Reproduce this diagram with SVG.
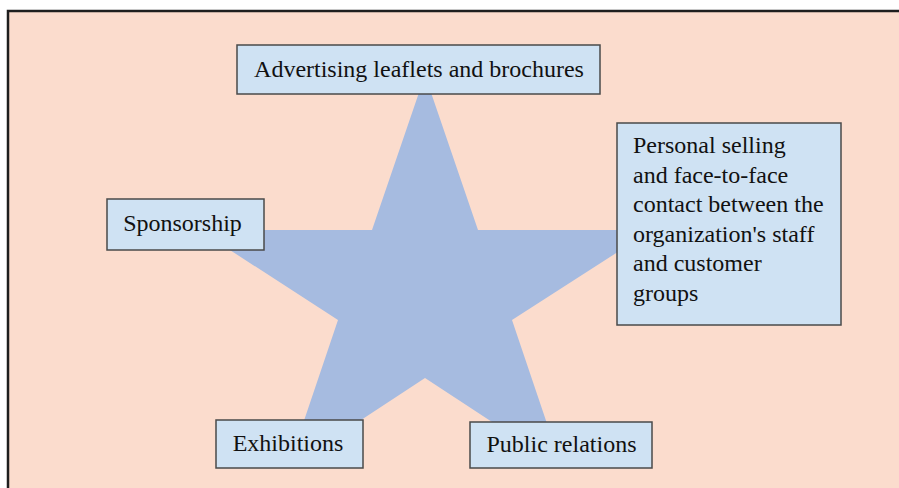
<svg xmlns="http://www.w3.org/2000/svg" width="899" height="488" viewBox="0 0 899 488">
<style>
.box{fill:#CFE2F3;stroke:#4a4a4a;stroke-width:1.5}
.t{font-family:"Liberation Serif","Times New Roman",serif;font-size:24px;fill:#111}
</style>
<rect x="0" y="0" width="899" height="488" fill="#ffffff"/>
<rect x="8" y="11" width="900" height="490" fill="#FBDCCD" stroke="#1e1e1e" stroke-width="2.5"/>
<g id="star">
<polygon points="425,75 478,230 652,230 512,320 562,468 425,378 288,468 338,320 199,230 372,230" fill="#A6BBE0"/>
</g>
<g id="connectors"></g>
<g id="node-advertising">
<rect class="box" x="237" y="45" width="363" height="49"/>
<text class="t" x="419" y="77" text-anchor="middle">Advertising leaflets and brochures</text>
</g>
<g id="node-personal">
<rect class="box" x="617" y="123" width="224" height="202"/>
<text class="t" x="633" y="153">Personal selling</text>
<text class="t" x="633" y="182.5">and face-to-face</text>
<text class="t" x="633" y="212">contact between the</text>
<text class="t" x="633" y="241.5">organization's staff</text>
<text class="t" x="633" y="271">and customer</text>
<text class="t" x="633" y="300.5">groups</text>
</g>
<g id="node-sponsorship">
<rect class="box" x="107" y="199" width="157" height="51"/>
<text class="t" x="182.5" y="231" text-anchor="middle">Sponsorship</text>
</g>
<g id="node-exhibitions">
<rect class="box" x="216" y="420" width="147" height="48"/>
<text class="t" x="288" y="451" text-anchor="middle">Exhibitions</text>
</g>
<g id="node-public">
<rect class="box" x="470" y="422" width="182" height="46"/>
<text class="t" x="561.5" y="452" text-anchor="middle">Public relations</text>
</g>
</svg>
